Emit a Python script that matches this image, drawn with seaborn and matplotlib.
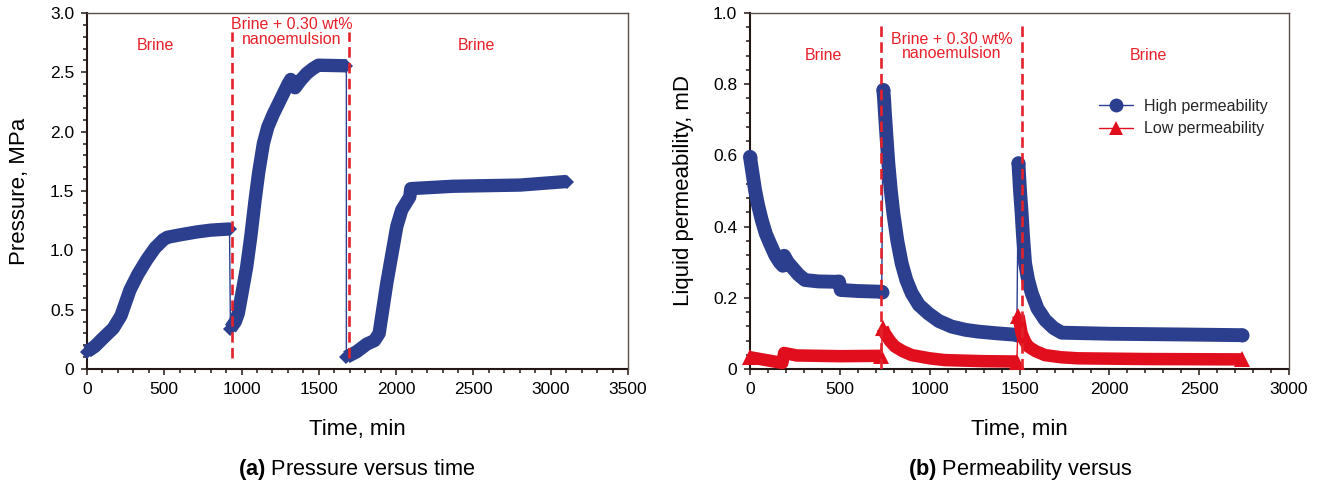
import matplotlib
matplotlib.use("Agg")
import matplotlib.pyplot as plt
import seaborn as sns
from matplotlib.ticker import MultipleLocator, FuncFormatter
from matplotlib.lines import Line2D

# ---------------- data ----------------
# (a) pressure vs time, three injection stages
p_t1 = [0, 50, 100, 170, 220, 278, 330, 386, 440, 494, 520, 600, 710, 800, 922]
p_v1 = [0.146, 0.19, 0.255, 0.343, 0.45, 0.666, 0.80, 0.92, 1.02, 1.09, 1.11,
        1.13, 1.155, 1.17, 1.18]
p_t2 = [928, 960, 979, 1000, 1033, 1060, 1087, 1110, 1141, 1170, 1206, 1240,
        1270, 1300, 1318, 1346, 1380, 1421, 1460, 1497, 1678]
p_v2 = [0.34, 0.40, 0.47, 0.62, 0.86, 1.12, 1.42, 1.65, 1.90, 2.04, 2.15, 2.24,
        2.32, 2.40, 2.44, 2.37, 2.43, 2.49, 2.53, 2.56, 2.555]
p_t3 = [1678, 1745, 1810, 1860, 1890, 1939, 2004, 2036, 2088, 2095, 2370, 2802, 3104]
p_v3 = [0.10, 0.146, 0.21, 0.24, 0.30, 0.72, 1.20, 1.34, 1.45, 1.52, 1.54, 1.55, 1.58]

# (b) permeability vs time
hi_t1 = [0, 14, 28, 45, 65, 88, 111, 140, 165, 183, 190, 210, 232, 270, 306,
         380, 480, 495, 505, 600, 733]
hi_v1 = [0.596, 0.55, 0.503, 0.46, 0.419, 0.38, 0.353, 0.32, 0.30, 0.29, 0.318,
         0.30, 0.287, 0.265, 0.25, 0.246, 0.245, 0.246, 0.222, 0.219, 0.217]
hi_t2 = [742, 746, 751, 760, 770, 784, 798, 820, 844, 870, 900, 940, 993, 1050,
         1123, 1200, 1271, 1380, 1485]
hi_v2 = [0.784, 0.76, 0.718, 0.65, 0.578, 0.50, 0.437, 0.36, 0.297, 0.25, 0.213,
         0.18, 0.156, 0.135, 0.119, 0.11, 0.105, 0.10, 0.096]
hi_t3 = [1494, 1503, 1512, 1520, 1531, 1548, 1568, 1600, 1642, 1690, 1735, 2000,
         2400, 2740]
hi_v3 = [0.578, 0.50, 0.437, 0.37, 0.297, 0.25, 0.213, 0.17, 0.138, 0.115, 0.102,
         0.099, 0.097, 0.095]

lo_t1 = [0, 90, 180, 190, 260, 500, 730]
lo_v1 = [0.033, 0.025, 0.017, 0.045, 0.038, 0.036, 0.037]
lo_t2 = [738, 751, 780, 807, 850, 900, 1000, 1085, 1300, 1485]
lo_v2 = [0.115, 0.10, 0.078, 0.063, 0.05, 0.039, 0.030, 0.025, 0.022, 0.021]
lo_t3 = [1494, 1512, 1530, 1549, 1590, 1642, 1730, 1827, 2200, 2740]
lo_v3 = [0.150, 0.10, 0.078, 0.063, 0.05, 0.039, 0.033, 0.030, 0.028, 0.027]

series_names = ["High permeability", "Low permeability"]

# stage boundaries and stage labels
a_dash_x = [940, 1697]
a_dash_y = [0.09, 2.84]
b_dash_x = [730, 1512]
b_dash_y = [0.0, 0.968]

stage_brine = "Brine"
stage_nano = "Brine + 0.30 wt%\nnanoemulsion"
a_label_x = [440, 1325, 2522]
a_label_y = [2.73, 2.84, 2.73]
b_label_x = [406, 1124, 2219]
b_label_y = [0.882, 0.906, 0.882]

a_xticks = [0, 500, 1000, 1500, 2000, 2500, 3000, 3500]
a_yticks = [0, 0.5, 1.0, 1.5, 2.0, 2.5, 3.0]
b_xticks = [0, 500, 1000, 1500, 2000, 2500, 3000]
b_yticks = [0, 0.2, 0.4, 0.6, 0.8, 1.0]

# ---------------- style ----------------
sns.set_theme(style="ticks")
plt.rcParams["font.family"] = ["Liberation Sans", "DejaVu Sans"]
plt.rcParams["mathtext.fontset"] = "custom"
plt.rcParams["mathtext.rm"] = "Liberation Sans"
plt.rcParams["mathtext.bf"] = "Liberation Sans:bold"

BLUE = "#2c3f8f"
RED = "#e10f1e"
DASH_RED = "#e3222b"
TXT_RED = "#e8202a"
DARK = "#231815"
FRAME = "#5a4f4a"

fig = plt.figure(figsize=(13.2, 4.88), dpi=100)
axA = fig.add_axes([87 / 1320, 1 - 369 / 488, 541 / 1320, 356 / 488])
axB = fig.add_axes([750 / 1320, 1 - 369 / 488, 539 / 1320, 356 / 488])


def band(ax, segs, color, marker, ms, lw, cap, z):
    # thin line through the whole record
    all_t = [t for s in segs for t in s[0]]
    all_v = [v for s in segs for v in s[1]]
    sns.lineplot(x=all_t, y=all_v, ax=ax, color=color, linewidth=1.0,
                 sort=False, estimator=None, zorder=z)
    for t, v in segs:
        sns.lineplot(x=t, y=v, ax=ax, color=color, linewidth=lw, sort=False,
                     estimator=None, zorder=z + 0.1, marker=marker,
                     markersize=ms, markeredgewidth=0, markevery=[0, len(t) - 1],
                     solid_capstyle=cap, solid_joinstyle="round", clip_on=False)


band(axA, [(p_t1, p_v1), (p_t2, p_v2), (p_t3, p_v3)], BLUE, "D", 7.4, 9.6, "butt", 3)
band(axB, [(hi_t1, hi_v1), (hi_t2, hi_v2), (hi_t3, hi_v3)], BLUE, "o", 10.0, 10.0, "round", 3)
band(axB, [(lo_t1, lo_v1), (lo_t2, lo_v2), (lo_t3, lo_v3)], RED, "^", 11.0, 9.0, "butt", 4)

for ax, xs, yy in [(axA, a_dash_x, a_dash_y), (axB, b_dash_x, b_dash_y)]:
    for x in xs:
        ax.plot([x, x], yy, color=DASH_RED, linewidth=1.9,
                dashes=(4.0, 2.0), zorder=6)

for ax, lx, ly in [(axA, a_label_x, a_label_y), (axB, b_label_x, b_label_y)]:
    labels = [stage_brine, stage_nano, stage_brine]
    for s, x, y in zip(labels, lx, ly):
        ax.text(x, y, s, color=TXT_RED, fontsize=11.5, ha="center",
                va="center", linespacing=0.95, zorder=7)

# axes formatting
def fmt0(v, pos):
    return "0" if abs(v) < 1e-9 else f"{v:.1f}"

axA.set_xlim(0, 3500)
axA.set_ylim(0, 3.0)
axA.set_xticks(a_xticks)
axA.set_yticks(a_yticks)
axA.xaxis.set_minor_locator(MultipleLocator(100))
axA.yaxis.set_minor_locator(MultipleLocator(0.1))

axB.set_xlim(0, 3000)
axB.set_ylim(0, 1.0)
axB.set_xticks(b_xticks)
axB.set_yticks(b_yticks)
axB.xaxis.set_minor_locator(MultipleLocator(100))
axB.yaxis.set_minor_locator(MultipleLocator(0.04))

for ax in (axA, axB):
    ax.yaxis.set_major_formatter(FuncFormatter(fmt0))
    ax.tick_params(axis="both", which="major", direction="out", length=4.2,
                   width=1.1, color=DARK, labelsize=12.5, pad=5, labelcolor="black")
    ax.tick_params(axis="both", which="minor", direction="out", length=3.0,
                   width=1.1, color=DARK)
    for side in ("left", "bottom"):
        ax.spines[side].set_color(DARK)
        ax.spines[side].set_linewidth(1.5)
        ax.spines[side].set_zorder(2)
    for side in ("top", "right"):
        ax.spines[side].set_visible(True)
        ax.spines[side].set_color(FRAME)
        ax.spines[side].set_linewidth(1.0)
    ax.set_xlabel("Time, min", fontsize=16, color="black")
    ax.xaxis.label.set_va("center")
    ax.xaxis.set_label_coords(0.5, -0.171)
    ax.set_facecolor("white")

axA.set_ylabel("Pressure, MPa", fontsize=16, color="black")
axA.yaxis.label.set_va("center")
axA.yaxis.set_label_coords(-0.124, 0.5)
axB.set_ylabel("Liquid permeability, mD", fontsize=16, color="black")
axB.yaxis.label.set_va("center")
axB.yaxis.set_label_coords(-0.124, 0.5)

handles = [
    Line2D([], [], color=BLUE, linewidth=1.0, marker="o", markersize=10,
           markeredgewidth=0),
    Line2D([], [], color=RED, linewidth=1.0, marker="^", markersize=10,
           markeredgewidth=0),
]
axB.legend(handles, series_names, loc="upper left",
           bbox_to_anchor=((1099 - 750) / 539, (369 - 99) / 356),
           frameon=False, fontsize=11.5, handlelength=2.1,
           handletextpad=0.7, labelspacing=0.45, borderpad=0,
           borderaxespad=0, markerscale=1.0)

fig.text(357 / 1320, 1 - 470 / 488, r"$\mathbf{(a)}$ Pressure versus time",
         ha="center", va="center", fontsize=15.7, color="black")
fig.text(1020 / 1320, 1 - 470 / 488, r"$\mathbf{(b)}$ Permeability versus",
         ha="center", va="center", fontsize=15.7, color="black")

fig.savefig("out.png", dpi=100, facecolor="white")
